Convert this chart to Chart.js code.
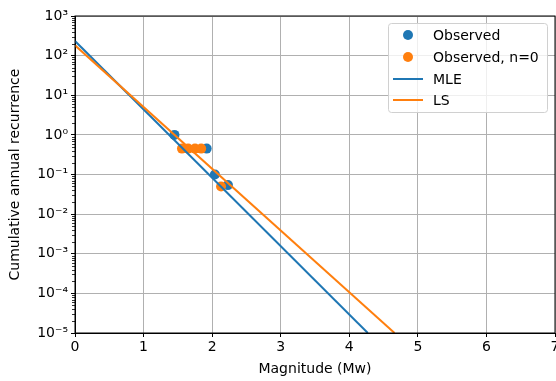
<!DOCTYPE html>
<html>
<head>
<meta charset="utf-8">
<script src="https://cdn.jsdelivr.net/npm/chart.js@4.4.1/dist/chart.umd.min.js"></script>
<style>
  html, body { margin: 0; padding: 0; background: #fff; }
  #wrap { width: 556px; height: 381px; }
</style>
</head>
<body>
<div id="wrap"><canvas id="chart" width="556" height="381"></canvas></div>
<script>
// observed cumulative rates
const obsMag = [1.45, 1.92, 2.04, 2.23];
const obsRate = [1.0, 0.45, 0.1, 0.054];
// observed bins with n=0
const zeroMag = [1.56, 1.65, 1.75, 1.84, 2.13];
const zeroRate = [0.45, 0.45, 0.45, 0.45, 0.05];
// fitted lines (end points)
const mleMag = [0, 4.27];
const mleRate = [234, 1e-5];
const lsMag = [0, 4.66];
const lsRate = [182, 1e-5];

const xTicks = [0, 1, 2, 3, 4, 5, 6, 7];
const yExp = [-5, -4, -3, -2, -1, 0, 1, 2, 3];

const BLUE = '#1f77b4', ORANGE = '#ff7f0e';
const FONT = 'DejaVu Sans';
const sup = {'-': '⁻', '0': '⁰', '1': '¹', '2': '²', '3': '³', '4': '⁴', '5': '⁵', '6': '⁶', '7': '⁷', '8': '⁸', '9': '⁹'};

const pts = (xs, ys) => xs.map((x, i) => ({x: x, y: ys[i]}));

const legendItems = [
    {label: 'Observed', color: BLUE, type: 'dot'},
    {label: 'Observed, n=0', color: ORANGE, type: 'dot'},
    {label: 'MLE', color: BLUE, type: 'line'},
    {label: 'LS', color: ORANGE, type: 'line'},
];

const extras = {
    id: 'extras',
    afterDraw(chart) {
        const ctx = chart.ctx, a = chart.chartArea, y = chart.scales.y;
        ctx.save();
        // minor ticks on log axis
        ctx.strokeStyle = '#000';
        ctx.lineWidth = 0.8;
        for (let e = -5; e < 3; e++) {
            for (let k = 2; k < 10; k++) {
                const py = Math.round(y.getPixelForValue(k * Math.pow(10, e))) + 0.5;
                ctx.beginPath();
                ctx.moveTo(a.left - 3, py);
                ctx.lineTo(a.left, py);
                ctx.stroke();
            }
        }
        // frame
        ctx.lineWidth = 1;
        ctx.strokeRect(a.left, a.top, a.right - a.left, a.bottom - a.top);

        // legend
        const lx = 388, ly = 23, lw = 159, lh = 89;
        ctx.fillStyle = 'rgba(255,255,255,0.8)';
        ctx.strokeStyle = '#d0d0d0';
        ctx.beginPath();
        ctx.roundRect(lx + 0.5, ly + 0.5, lw, lh, 3);
        ctx.fill();
        ctx.stroke();
        ctx.font = '14px "' + FONT + '"';
        ctx.textBaseline = 'middle';
        const rows = [35, 57, 79, 100];
        legendItems.forEach((it, i) => {
            const ry = rows[i];
            if (it.type === 'dot') {
                ctx.fillStyle = it.color;
                ctx.beginPath();
                ctx.arc(408, ry, 5, 0, Math.PI * 2);
                ctx.fill();
            } else {
                ctx.strokeStyle = it.color;
                ctx.lineWidth = 2;
                ctx.beginPath();
                ctx.moveTo(393, ry);
                ctx.lineTo(423, ry);
                ctx.stroke();
            }
            ctx.fillStyle = '#000';
            ctx.fillText(it.label, 433, ry + 1);
        });
        ctx.restore();
    }
};

new Chart(document.getElementById('chart'), {
    type: 'scatter',
    data: {
        datasets: [
            {label: 'Observed', data: pts(obsMag, obsRate), backgroundColor: BLUE, borderColor: BLUE,
                pointRadius: 5, borderWidth: 0, order: 3},
            {label: 'Observed, n=0', data: pts(zeroMag, zeroRate), backgroundColor: ORANGE, borderColor: ORANGE,
                pointRadius: 5, borderWidth: 0, order: 2},
            {label: 'MLE', type: 'line', data: pts(mleMag, mleRate), borderColor: BLUE, backgroundColor: BLUE,
                borderWidth: 2, pointRadius: 0, showLine: true, fill: false, order: 1},
            {label: 'LS', type: 'line', data: pts(lsMag, lsRate), borderColor: ORANGE, backgroundColor: ORANGE,
                borderWidth: 2, pointRadius: 0, showLine: true, fill: false, order: 0},
        ]
    },
    options: {
        responsive: false,
        animation: false,
        devicePixelRatio: 1,
        layout: {autoPadding: false, padding: {left: 0, right: 1, top: 16, bottom: 0}},
        plugins: {
            legend: {display: false},
            tooltip: {enabled: false},
        },
        scales: {
            x: {
                type: 'linear',
                min: 0, max: 7,
                afterBuildTicks: s => { s.ticks = xTicks.map(v => ({value: v})); },
                afterFit: s => { s.height = 48; s.paddingLeft = 0; s.paddingRight = 0; },
                grid: {color: '#b0b0b0', lineWidth: 1, tickColor: '#000', tickLength: 4},
                border: {color: '#000', width: 1},
                ticks: {color: '#000', padding: 2, font: {family: FONT, size: 14}, maxRotation: 0},
                title: {display: true, text: 'Magnitude (Mw)', color: '#000', padding: {top: 0, bottom: 3},
                    font: {family: FONT, size: 14}},
            },
            y: {
                type: 'logarithmic',
                min: 1e-5, max: 1e3,
                afterBuildTicks: s => { s.ticks = yExp.map(e => ({value: Math.pow(10, e), major: true})); },
                afterFit: s => { s.width = 75; s.paddingTop = 0; s.paddingBottom = 0; },
                grid: {color: '#b0b0b0', lineWidth: 1, tickColor: '#000', tickLength: 4},
                border: {color: '#000', width: 1},
                ticks: {
                    color: '#000', padding: 3, font: {family: FONT, size: 14},
                    callback: v => '10' + String(Math.round(Math.log10(v))).split('').map(c => sup[c]).join('')
                },
                title: {display: true, text: 'Cumulative annual recurrence', color: '#000', padding: {top: 7, bottom: 4},
                    font: {family: FONT, size: 14}},
            }
        }
    },
    plugins: [extras]
});
</script>
</body>
</html>
